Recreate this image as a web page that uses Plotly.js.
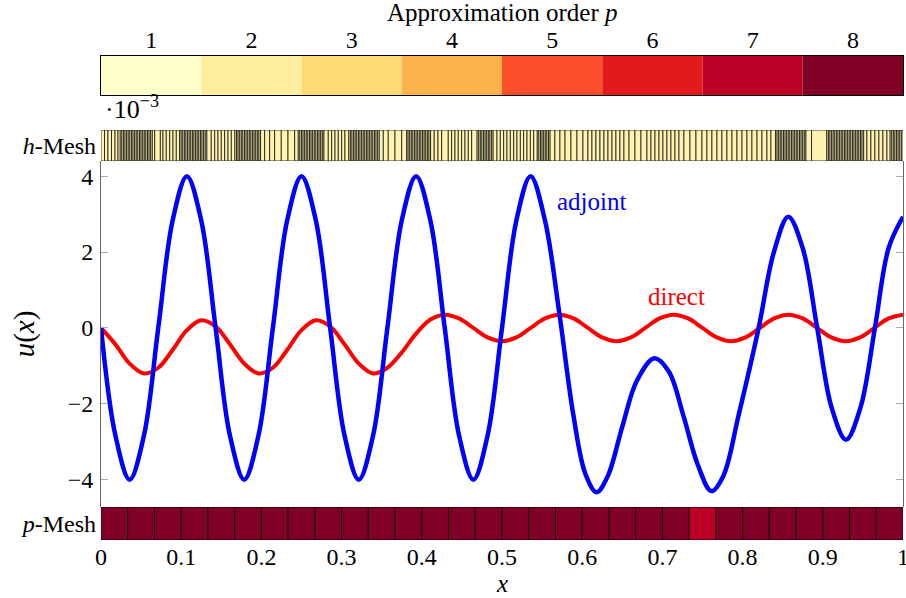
<!DOCTYPE html>
<html><head><meta charset="utf-8">
<script src="https://cdn.plot.ly/plotly-3.0.1.min.js"></script>
<style>body{margin:0;background:#fff}</style>
</head><body><div id="chart" style="width:906px;height:598px"></div>
<script>
const orderLevels=[1,2,3,4,5,6,7,8];
const orderColors=['#FFFFCC','#FFEDA0','#FED976','#FEB24C','#FC4E2A','#E31A1C','#BD0026','#800026'];

const adjX=[0,0.0179,0.0357,0.0536,0.0714,0.0893,0.1071,0.125,0.1429,0.1607,0.1786,0.1964,0.2143,0.2321,0.25,0.2679,0.2857,0.3036,0.3214,0.3393,0.3571,0.375,0.3929,0.4107,0.4286,0.4464,0.4643,0.4821,0.5,0.5179,0.5357,0.5536,
0.5714,0.589,0.604,0.618,0.632,0.65,0.668,0.69,0.708,0.726,0.744,0.761,0.776,0.795,0.82,0.839,0.857,0.875,0.893,0.911,0.929,0.947,0.965,0.982,1.0];
const adjY=[0,-2.83,-4,-2.83,0,2.83,4,2.83,0,-2.83,-4,-2.83,0,2.83,4,2.83,0,-2.83,-4,-2.83,0,2.83,4,2.83,0,-2.83,-4,-2.83,0,2.83,4,2.83,
0.4,-2.3,-3.85,-4.33,-3.9,-2.6,-1.4,-0.8,-1.15,-2.3,-3.6,-4.3,-3.9,-2.3,0,2.0,2.93,2.1,0,-2.1,-2.95,-2.1,0,2.1,2.93];

const dirX=[0,0.0179,0.0357,0.0536,0.0714,0.0893,0.1071,0.125,0.1429,0.1607,0.1786,0.1964,0.2143,0.2321,0.25,0.2679,0.2857,0.3036,0.3214,0.3393,0.3571,0.375,0.3929,0.4107,0.4286,0.4464,0.4643,0.4821,0.5,0.5179,0.5357,0.5536,0.5714,0.5893,0.6071,0.625,0.6429,0.6607,0.6786,0.6964,0.7143,0.7321,0.75,0.7679,0.7857,0.8036,0.8214,0.8393,0.8571,0.875,0.8929,0.9107,0.9286,0.9464,0.9643,0.9821,1];
const dirY=[0,-0.43,-0.94,-1.2,-1.05,-0.58,-0.06,0.2,0.04,-0.43,-0.94,-1.2,-1.05,-0.58,-0.06,0.2,0.04,-0.43,-0.94,-1.2,
-1.05,-0.65,-0.15,0.22,0.35,
0.25,0,-0.25,-0.35,-0.25,0,0.25,0.35,0.25,0,-0.25,-0.35,-0.25,0,0.25,0.35,0.25,0,-0.25,-0.35,-0.25,0,0.25,0.35,0.25,0,-0.25,-0.35,-0.25,0,0.25,0.35];

const hNodes=[0,0.0044,0.0087,0.0131,0.0175,0.0212,
0.024,0.026,0.028,0.030,0.032,0.034,0.036,0.038,0.040,0.042,0.044,0.046,0.048,0.050,0.052,0.054,0.056,0.058,0.060,0.062,0.064,
0.067,0.074,0.0773,0.0814,0.0857,0.0898,0.0939,
0.098,0.100,0.102,0.104,0.106,0.108,0.110,0.112,0.114,0.116,0.118,0.120,0.122,0.124,0.126,0.128,0.130,0.132,
0.1375,0.1418,0.1459,0.150,0.1542,0.1584,0.1625,
0.167,0.169,0.171,0.173,0.175,0.177,0.179,0.181,0.183,0.185,0.187,0.189,0.191,0.193,0.195,0.197,0.199,
0.204,0.2103,0.2165,0.2248,0.2332,0.2415,
0.246,0.248,0.250,0.252,0.254,0.256,0.258,0.260,0.262,0.264,0.266,0.268,0.270,0.272,0.274,0.276,0.278,
0.2834,0.2876,0.2918,0.2959,0.3001,0.3042,
0.309,0.311,0.313,0.315,0.317,0.319,0.321,0.323,0.325,0.327,0.329,0.331,0.333,0.335,0.337,0.339,0.341,0.343,0.345,0.347,
0.352,0.3582,0.3666,0.375,0.3812,
0.383,0.385,0.387,0.389,0.391,0.393,0.395,0.397,0.399,0.401,0.403,0.405,0.407,0.409,0.411,
0.4155,0.4202,0.4248,0.433,0.4372,0.4414,0.4455,0.4497,0.4539,0.458,0.4622,
0.469,0.471,0.473,0.475,0.477,0.479,0.481,0.483,0.485,0.487,0.489,
0.4938,0.4979,0.5021,0.5062,0.5104,0.5146,0.5187,0.5229,0.527,0.5312,0.5354,0.5395,
0.544,0.546,0.548,0.550,0.552,0.554,0.556,0.558,0.560,
0.566,0.5723,0.5786,0.586,0.5935,0.601,0.6072,0.6122,0.6172,0.6222,0.6272,0.6322,0.6372,0.6421,0.6471,0.6521,0.6584,0.6658,0.6733,0.6808,0.6858,0.6908,0.6958,0.7007,0.7057,0.7107,0.7157,0.7207,0.7269,0.7344,0.7419,0.7494,0.7556,0.7618,0.7681,0.7743,0.7805,0.7868,0.793,0.7993,0.8055,0.8117,0.818,0.8242,0.8304,0.8354,
0.841,0.843,0.845,0.847,0.849,0.851,0.853,0.855,0.857,0.859,0.861,0.863,0.865,0.867,0.869,0.871,0.873,0.875,0.877,0.879,
0.886,
0.905,0.907,0.909,0.911,0.913,0.915,0.917,0.919,0.921,0.923,0.925,0.927,0.929,0.931,0.933,0.935,0.937,0.939,0.941,0.943,0.945,0.947,0.949,0.951,
0.955,0.960,0.965,0.970,0.975,0.980,
0.984,0.986,0.988,0.990,0.992,0.994,0.996,0.998,1.0];

const pEdges=[0,0.0333,0.0667,0.1,0.1333,0.1667,0.2,0.2333,0.2667,0.3,0.3333,0.3667,0.4,0.4333,0.4667,0.5,0.5333,0.5667,0.6,0.6333,0.6667,0.7,0.7333,0.7667,0.8,0.8333,0.8667,0.9,0.9333,0.9667,1];
const pOrder=[8,8,8,8,8,8,8,8,8,8,8,8,8,8,8,8,8,8,8,8,8,8,7,8,8,8,8,8,8,8];

const xTicks=[0,0.1,0.2,0.3,0.4,0.5,0.6,0.7,0.8,0.9,1];
const xTickText=['0','0.1','0.2','0.3','0.4','0.5','0.6','0.7','0.8','0.9','1'];
const yTicks=[-4,-2,0,2,4];
const yTickText=['\u22124','\u22122','0','2','4'];

const FONT='"Liberation Serif", "Times New Roman", Times, serif';
const FS=24;
const colorOf=p=>orderColors[orderLevels.indexOf(p)];

const hMid=[],hW=[];
for(let i=0;i<hNodes.length-1;i++){hMid.push((hNodes[i]+hNodes[i+1])/2);hW.push(hNodes[i+1]-hNodes[i]);}
const pMid=[],pW=[];
for(let i=0;i<pEdges.length-1;i++){pMid.push((pEdges[i]+pEdges[i+1])/2);pW.push(pEdges[i+1]-pEdges[i]);}

const traces=[
 {type:'bar',x:hMid,width:hW,y:hMid.map(()=>1),base:0,xaxis:'x',yaxis:'y2',
  marker:{color:'#FFF3B2',line:{color:'rgba(0,0,0,0.9)',width:0.8}},hoverinfo:'skip'},
 {type:'bar',x:pMid,width:pW,y:pMid.map(()=>1),base:0,xaxis:'x',yaxis:'y3',
  marker:{color:pOrder.map(colorOf),line:{color:'#000',width:0.8}},hoverinfo:'skip'},
 {type:'bar',x:orderLevels,width:orderLevels.map(()=>1),y:orderLevels.map(()=>1),base:0,xaxis:'x2',yaxis:'y4',
  marker:{color:orderColors,line:{width:0}},hoverinfo:'skip'},
 {type:'scatter',mode:'lines',x:dirX,y:dirY,xaxis:'x',yaxis:'y',
  line:{color:'#FF0000',width:4,shape:'spline',smoothing:1}},
 {type:'scatter',mode:'lines',x:adjX,y:adjY,xaxis:'x',yaxis:'y',
  line:{color:'#0000FF',width:4.5,shape:'spline',smoothing:1}}
];

const noGrid={showgrid:false,zeroline:false,fixedrange:true};
const layout={
 width:906,height:598,margin:{l:101,r:3,t:56,b:58},
 paper_bgcolor:'#fff',plot_bgcolor:'#fff',
 font:{family:FONT,size:FS,color:'#000'},
 showlegend:false,barmode:'overlay',
 xaxis:Object.assign({domain:[0,1],range:[0,1],anchor:'y3',tickvals:xTicks,ticktext:xTickText,ticks:'',showline:false,
   ticklabeloverflow:'allow'},noGrid),
 yaxis:Object.assign({domain:[0.0682,0.7831],range:[-4.72,4.4],anchor:'x',tickvals:yTicks,ticktext:yTickText,
   ticks:'inside',ticklen:7,tickcolor:'#aaa',tickwidth:1,showline:true,linecolor:'#666',linewidth:1,mirror:'ticks',
   ticklabelstandoff:2,title:{text:'<i>u</i>(<i>x</i>)',standoff:24}},noGrid),
 yaxis2:Object.assign({domain:[0.7831,0.8471],range:[0,1],anchor:'x',tickvals:[0.5],ticktext:['<i>h</i>-Mesh'],ticks:'',showline:false,ticklabelstandoff:4},noGrid),
 yaxis3:Object.assign({domain:[0,0.0682],range:[0,1],anchor:'x',tickvals:[0.5],ticktext:['<i>p</i>-Mesh'],ticks:'',showline:false,ticklabelstandoff:4},noGrid),
 xaxis2:Object.assign({domain:[0,1],range:[0.5,8.5],anchor:'y4',side:'top',tickvals:orderLevels,ticks:'',
   showline:true,mirror:true,linecolor:'#000',linewidth:1,ticklabelstandoff:-3},noGrid),
 yaxis4:Object.assign({domain:[0.9194,1],range:[0,1],anchor:'x2',showticklabels:false,ticks:'',
   showline:true,mirror:true,linecolor:'#000',linewidth:1},noGrid),
 annotations:[
  {xref:'paper',yref:'paper',x:0.5,y:1.089,xanchor:'center',yanchor:'middle',showarrow:false,
   text:'Approximation order <i>p</i>',font:{family:FONT,size:25}},
  {xref:'paper',yref:'paper',x:0.5,y:-0.0905,xanchor:'center',yanchor:'middle',showarrow:false,
   text:'<i>x</i>',font:{family:FONT,size:25}},
  {xref:'paper',yref:'paper',x:0.002,y:0.8926,xanchor:'left',yanchor:'middle',showarrow:false,
   text:'\u00b710<sup>\u22123</sup>',font:{family:FONT,size:26}},
  {xref:'x',yref:'y',x:0.566,y:3.34,xanchor:'left',yanchor:'middle',showarrow:false,
   text:'adjoint',font:{family:FONT,size:FS+1,color:'#0000FF'}},
  {xref:'x',yref:'y',x:0.68,y:0.82,xanchor:'left',yanchor:'middle',showarrow:false,
   text:'direct',font:{family:FONT,size:FS+1,color:'#FF0000'}}
 ]
};
Plotly.newPlot('chart',traces,layout,{displayModeBar:false,staticPlot:true});
</script></body></html>
